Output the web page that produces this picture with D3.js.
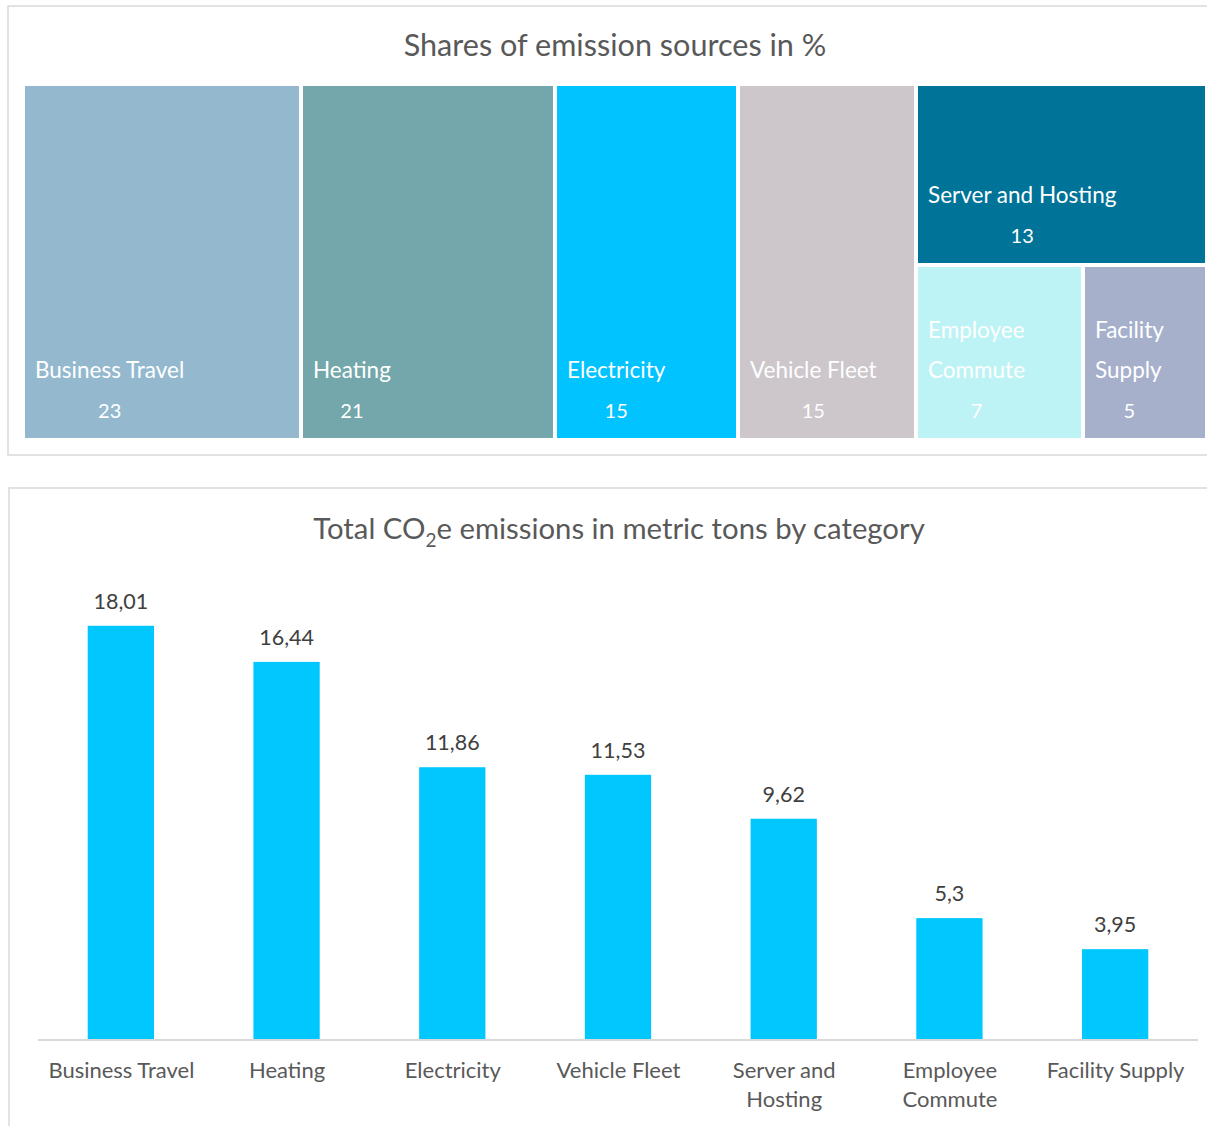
<!DOCTYPE html>
<html><head><meta charset="utf-8">
<script src="https://cdn.jsdelivr.net/npm/d3@7"></script>
<style>body{margin:0;background:#fff}svg{display:block}</style>
</head><body><svg id="c" width="1207" height="1126"></svg>
<script>
const categories = ["Business Travel","Heating","Electricity","Vehicle Fleet","Server and Hosting","Employee Commute","Facility Supply"];
const emissions = [18.01,16.44,11.86,11.53,9.62,5.3,3.95];
const shares = [23,21,15,15,13,7,5];
const shareLabelLines = [["Business Travel"],["Heating"],["Electricity"],["Vehicle Fleet"],["Server and Hosting"],["Employee","Commute"],["Facility","Supply"]];
const axisLabelLines = [["Business Travel"],["Heating"],["Electricity"],["Vehicle Fleet"],["Server and","Hosting"],["Employee","Commute"],["Facility Supply"]];
const emissionLabels = ["18,01","16,44","11,86","11,53","9,62","5,3","3,95"];
const colors = ["#94b9cf","#73a7ab","#00c3ff","#cdc6cb","#007398","#bdf3f5","#a6b0cb"];
const barColor = "#00c8ff";
const yTicks = [0,20];

const svg = d3.select("#c");
const FONT = "Lato, 'Open Sans', sans-serif";

// Panel frames
svg.append("rect").attr("x",8).attr("y",6).attr("width",1230).attr("height",449)
  .attr("fill","#fff").attr("stroke","#d9d9d9").attr("stroke-width",1.5);
svg.append("rect").attr("x",9).attr("y",488).attr("width",1230).attr("height",700)
  .attr("fill","#fff").attr("stroke","#d9d9d9").attr("stroke-width",1.5);

// ---------- Treemap ----------
svg.append("text").attr("x",615).attr("y",56).attr("text-anchor","middle")
  .attr("font-family",FONT).attr("font-size",30.6).attr("fill","#595959")
  .text("Shares of emission sources in %");

const items = categories.map((c,i)=>({name:c, value:emissions[i], share:shares[i], lines:shareLabelLines[i], color:colors[i]}));
const treeData = {name:"root", children:[
  items[0], items[1], items[2], items[3],
  {name:"g1", children:[items[4], {name:"g2", children:[items[5], items[6]]}]}
]};
const root = d3.hierarchy(treeData).sum(d=>d.children?0:d.value);
d3.treemap().tile(d3.treemapSliceDice).size([1180,352]).paddingInner(4).round(true)(root);

const tg = svg.append("g").attr("transform","translate(25,86)");
const leaves = tg.selectAll("g.leaf").data(root.leaves()).join("g").attr("class","leaf");
leaves.append("rect").attr("x",d=>d.x0).attr("y",d=>d.y0)
  .attr("width",d=>d.x1-d.x0).attr("height",d=>d.y1-d.y0)
  .attr("fill",d=>d.data.color);
leaves.each(function(d){
  const g = d3.select(this);
  const n = d.data.lines.length;
  const labels = d.data.lines.map((ln,k)=>g.append("text")
    .attr("x",d.x0+10).attr("y",d.y1-20-40*(n-k))
    .attr("font-family",FONT).attr("font-size",22.5).attr("fill","#fff").text(ln));
  let w = 0;
  labels.forEach(t=>{w=Math.max(w,t.node().getComputedTextLength());});
  g.append("text").attr("x",d.x0+10+w/2).attr("y",d.y1-20).attr("text-anchor","middle")
    .attr("font-family",FONT).attr("font-size",20).attr("fill","#fff").text(d.data.share);
});

// ---------- Bar chart ----------
const title = svg.append("text").attr("x",619).attr("y",539).attr("text-anchor","middle")
  .attr("font-family",FONT).attr("font-size",29.3).attr("fill","#595959");
title.append("tspan").text("Total CO");
title.append("tspan").attr("font-size",19).attr("dy",8).text("2");
title.append("tspan").attr("dy",-8).text("e emissions in metric tons by category");

const x = d3.scaleBand().domain(categories).range([38,1198]).paddingInner(0.6).paddingOuter(0.3);
const y = d3.scaleLinear().domain([yTicks[0], yTicks[1]]).range([1040,580]);

svg.append("g").selectAll("rect").data(categories).join("rect")
  .attr("x",d=>x(d)).attr("width",x.bandwidth())
  .attr("y",(d,i)=>y(emissions[i])).attr("height",(d,i)=>y(0)-y(emissions[i]))
  .attr("fill",barColor);

svg.append("g").selectAll("text").data(categories).join("text")
  .attr("x",d=>x(d)+x.bandwidth()/2).attr("y",(d,i)=>y(emissions[i])-17)
  .attr("text-anchor","middle").attr("font-family",FONT).attr("font-size",21.5).attr("fill","#404040")
  .text((d,i)=>emissionLabels[i]);

const xAxis = svg.append("g").attr("transform",`translate(0,${y(0)})`)
  .call(d3.axisBottom(d3.scalePoint().domain(categories).range([x(categories[0])+x.bandwidth()/2, x(categories[6])+x.bandwidth()/2])).tickSize(0).tickFormat(""));
xAxis.select(".domain").remove();
xAxis.append("line").attr("x1",38).attr("x2",1198).attr("y1",0).attr("y2",0).attr("stroke","#d9d9d9").attr("stroke-width",2);
xAxis.selectAll(".tick").each(function(d,i){
  const t = d3.select(this).append("text").attr("fill","#595959").attr("font-family",FONT)
    .attr("font-size",22).attr("text-anchor","middle").attr("y",38);
  axisLabelLines[i].forEach((ln,k)=>t.append("tspan").attr("x",0).attr("dy",k?29:0).text(ln));
});
</script></body></html>
